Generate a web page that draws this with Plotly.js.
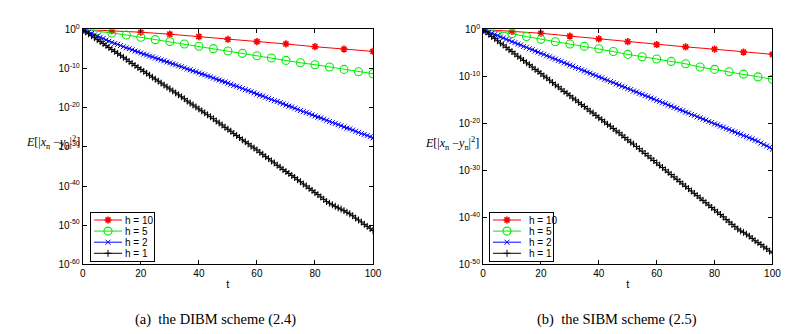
<!DOCTYPE html>
<html>
<head>
<meta charset="utf-8">
<script src="https://cdn.plot.ly/plotly-3.0.1.min.js"></script>
<style>
html,body{margin:0;padding:0;background:#fff;}
#chart{width:806px;height:334px;}
</style>
</head>
<body>
<div id="chart"></div>
<script>
// ---- Data (values are base-10 exponents of E[|x_n - y_n|^2]) ----
const t10 = [0,10,20,30,40,50,60,70,80,90,100];
const t5 = [0,5,10,15,20,25,30,35,40,45,50,55,60,65,70,75,80,85,90,95,100];
const t1 = Array.from({length:101},(_,i)=>i);

const seriesNames = ["h = 10","h = 5","h = 2","h = 1"];

// (a) DIBM scheme
const a_h10 = [0,-0.3,-0.7,-1.2,-1.8,-2.5,-3.1,-3.7,-4.4,-5.0,-5.6];
const a_h5 = [0,-0.4,-0.9,-1.4,-2.0,-2.6,-3.1,-3.7,-4.3,-4.9,-5.5,-6.1,-6.7,-7.3,-7.9,-8.5,-9.0,-9.6,-10.2,-10.8,-11.3];
const a_h2 = [0,-0.4,-0.7,-1.0,-1.4,-1.7,-2.0,-2.3,-2.7,-3.0,-3.3,
  -3.6,-3.8,-4.1,-4.4,-4.7,-4.9,-5.2,-5.5,-5.7,-6.0,
  -6.3,-6.5,-6.8,-7.0,-7.3,-7.5,-7.8,-8.0,-8.3,-8.5,
  -8.8,-9.0,-9.3,-9.5,-9.8,-10.1,-10.3,-10.6,-10.8,-11.1,
  -11.4,-11.6,-11.9,-12.1,-12.4,-12.7,-12.9,-13.2,-13.4,-13.7,
  -14.0,-14.3,-14.5,-14.8,-15.1,-15.4,-15.6,-15.9,-16.2,-16.5,
  -16.8,-17.0,-17.3,-17.6,-17.9,-18.2,-18.4,-18.7,-19.0,-19.3,
  -19.6,-19.8,-20.1,-20.4,-20.7,-21.0,-21.2,-21.5,-21.8,-22.1,
  -22.4,-22.6,-22.9,-23.2,-23.5,-23.8,-24.0,-24.3,-24.6,-24.9,
  -25.2,-25.4,-25.7,-26.0,-26.3,-26.6,-26.8,-27.1,-27.4,-27.7];
const a_h1 = [0,-0.6,-1.1,-1.6,-2.1,-2.6,-3.1,-3.6,-4.1,-4.6,-5.1,
  -5.6,-6.1,-6.6,-7.1,-7.6,-8.2,-8.7,-9.2,-9.7,-10.2,
  -10.7,-11.2,-11.7,-12.2,-12.7,-13.2,-13.7,-14.2,-14.7,-15.2,
  -15.7,-16.2,-16.7,-17.2,-17.7,-18.3,-18.8,-19.3,-19.8,-20.3,
  -20.8,-21.3,-21.8,-22.3,-22.8,-23.4,-23.9,-24.4,-25.0,-25.5,
  -26.0,-26.6,-27.1,-27.6,-28.2,-28.7,-29.2,-29.8,-30.3,-30.8,
  -31.4,-31.9,-32.5,-33.0,-33.6,-34.1,-34.7,-35.2,-35.8,-36.3,
  -36.8,-37.3,-37.8,-38.4,-38.9,-39.5,-40.0,-40.6,-41.1,-41.7,
  -42.2,-42.8,-43.4,-44.0,-44.4,-44.8,-45.2,-45.6,-45.9,-46.3,
  -46.7,-47.1,-47.6,-48.2,-48.7,-49.2,-49.8,-50.3,-50.8,-51.4];

// (b) SIBM scheme
const b_h10 = [0,-0.4,-0.8,-1.4,-2.0,-2.6,-3.2,-3.7,-4.2,-4.8,-5.3];
const b_h5 = [0,-0.4,-0.9,-1.5,-2.1,-2.6,-3.1,-3.6,-4.1,-4.7,-5.3,-5.8,-6.3,-6.8,-7.3,-8.0,-8.5,-9.0,-9.5,-10.1,-10.6];
const b_h2 = [0,-0.3,-0.6,-0.8,-1.1,-1.3,-1.6,-1.8,-2.1,-2.3,-2.6,
  -2.8,-3.1,-3.3,-3.6,-3.8,-4.1,-4.3,-4.6,-4.8,-5.1,
  -5.3,-5.6,-5.8,-6.1,-6.3,-6.6,-6.8,-7.1,-7.3,-7.6,
  -7.8,-8.1,-8.3,-8.6,-8.8,-9.1,-9.3,-9.6,-9.8,-10.1,
  -10.3,-10.6,-10.8,-11.1,-11.3,-11.6,-11.8,-12.1,-12.3,-12.6,
  -12.8,-13.1,-13.3,-13.6,-13.8,-14.1,-14.3,-14.6,-14.8,-15.1,
  -15.3,-15.6,-15.8,-16.1,-16.3,-16.6,-16.8,-17.1,-17.3,-17.6,
  -17.8,-18.1,-18.3,-18.6,-18.8,-19.1,-19.3,-19.6,-19.8,-20.1,
  -20.3,-20.6,-20.8,-21.1,-21.3,-21.6,-21.8,-22.1,-22.3,-22.6,
  -22.8,-23.1,-23.3,-23.6,-23.8,-24.2,-24.5,-24.8,-25.1,-25.5];
const b_h1 = [0,-0.5,-1.0,-1.5,-1.9,-2.4,-2.9,-3.3,-3.8,-4.3,-4.7,
  -5.2,-5.7,-6.1,-6.6,-7.1,-7.5,-8.0,-8.5,-8.9,-9.4,
  -9.9,-10.3,-10.8,-11.3,-11.8,-12.2,-12.7,-13.2,-13.6,-14.1,
  -14.6,-15.0,-15.5,-16.0,-16.4,-16.9,-17.4,-17.8,-18.3,-18.8,
  -19.2,-19.7,-20.2,-20.6,-21.1,-21.6,-22.0,-22.5,-23.0,-23.5,
  -24.0,-24.4,-24.9,-25.4,-25.9,-26.4,-26.9,-27.4,-27.9,-28.4,
  -28.9,-29.4,-29.9,-30.4,-30.9,-31.4,-31.9,-32.4,-32.9,-33.4,
  -33.9,-34.4,-34.9,-35.4,-35.9,-36.4,-36.9,-37.4,-37.9,-38.4,
  -38.9,-39.4,-39.9,-40.5,-41.0,-41.5,-42.0,-42.5,-42.9,-43.2,
  -43.6,-44.0,-44.5,-45.0,-45.4,-45.8,-46.3,-46.7,-47.2,-47.6];

const xTicks = [0,20,40,60,80,100];
const yExpA = [0,-10,-20,-30,-40,-50,-60];
const yExpB = [0,-10,-20,-30,-40,-50];
const captions = ["(a)  the DIBM scheme (2.4)", "(b)  the SIBM scheme (2.5)"];
const yTitle = "<i>E</i>[|<i>x</i><sub>n</sub> −<i>y</i><sub>n</sub>|<sup>2</sup>]";

// ---- Styles ----
const styles = [
  {color:"#ff0000", symbol:"asterisk-open", size:6, lw:1.6},
  {color:"#00ee00", symbol:"circle-open", size:8, lw:1.1},
  {color:"#0000ff", symbol:"x-thin-open", size:5, lw:1.0},
  {color:"#000000", symbol:"cross-thin-open", size:5, lw:1.0}
];
const pow = a => a.map(v => Math.pow(10, v));

function makeTraces(xs, ys, xa, ya, leg) {
  return ys.map((y, i) => ({
    type: "scatter", mode: "lines+markers",
    x: xs[i], y: pow(y), xaxis: xa, yaxis: ya,
    name: seriesNames[i], legend: leg,
    line: {color: styles[i].color, width: 1},
    marker: {symbol: styles[i].symbol, size: styles[i].size, color: styles[i].color,
             line: {color: styles[i].color, width: styles[i].lw}}
  }));
}

const data = [
  ...makeTraces([t10,t5,t1,t1],[a_h10,a_h5,a_h2,a_h1],"x","y","legend"),
  ...makeTraces([t10,t5,t1,t1],[b_h10,b_h5,b_h2,b_h1],"x2","y2","legend2")
];

const tickFont = {family:"Liberation Sans, Arial, sans-serif", size:10, color:"#000"};
function xAxis(dom, anchor) {
  return {domain: dom, anchor: anchor, range:[0,100], tickvals: xTicks, ticktext: xTicks.map(String),
    ticks:"inside", ticklen:4, tickcolor:"#000", showline:true, linecolor:"#000", linewidth:1,
    mirror:"ticks", showgrid:false, zeroline:false, tickfont: tickFont,
    title:{text:"t", font:{family:"Liberation Sans, Arial, sans-serif", size:11, color:"#000"}, standoff:2}};
}
function yAxis(exps, anchor) {
  return {domain:[0.2088,0.9117], anchor: anchor, type:"log",
    range:[exps[exps.length-1], 0],
    tickmode:"array", tickvals: exps.map(e=>Math.pow(10,e)),
    ticktext: exps.map(e=>"10<sup>"+(e===0?"0":"-"+(-e))+"</sup>"),
    ticks:"inside", ticklen:4, tickcolor:"#000", showline:true, linecolor:"#000", linewidth:1,
    mirror:"ticks", showgrid:false, zeroline:false, tickfont: tickFont};
}

const legendBase = {bordercolor:"#000", borderwidth:1, bgcolor:"#fff",
  font:{family:"Liberation Sans, Arial, sans-serif", size:10, color:"#000"},
  xanchor:"left", yanchor:"top", tracegroupgap:0, itemwidth:30};

const layout = {
  width:806, height:334, margin:{l:0,r:0,t:0,b:0},
  paper_bgcolor:"#fff", plot_bgcolor:"#fff", showlegend:true,
  xaxis: xAxis([0.1027,0.4628],"y"),
  yaxis: yAxis(yExpA,"x"),
  xaxis2: xAxis([0.5993,0.9584],"y2"),
  yaxis2: yAxis(yExpB,"x2"),
  legend: Object.assign({x:0.1117, y:0.3653}, legendBase),
  legend2: Object.assign({x:0.6067, y:0.3653}, legendBase),
  annotations: [
    {text: yTitle, xref:"paper", yref:"paper", x:24/806, y:1-142/334, xanchor:"left", yanchor:"middle",
     showarrow:false, font:{family:"Liberation Serif, Times New Roman, serif", size:12, color:"#000"}},
    {text: yTitle, xref:"paper", yref:"paper", x:423/806, y:1-143/334, xanchor:"left", yanchor:"middle",
     showarrow:false, font:{family:"Liberation Serif, Times New Roman, serif", size:12, color:"#000"}},
    {text: captions[0], xref:"paper", yref:"paper", x:216/806, y:1-319/334, xanchor:"center", yanchor:"middle",
     showarrow:false, font:{family:"Liberation Serif, Times New Roman, serif", size:14.5, color:"#000"}},
    {text: captions[1], xref:"paper", yref:"paper", x:617/806, y:1-319/334, xanchor:"center", yanchor:"middle",
     showarrow:false, font:{family:"Liberation Serif, Times New Roman, serif", size:14.5, color:"#000"}}
  ]
};

Plotly.newPlot("chart", data, layout, {staticPlot:true, displayModeBar:false}).then(gd => {
  // compact legend (MATLAB-style tight rows)
  gd.querySelectorAll("g.legend, g.legend2").forEach(leg => {
    const rows = leg.querySelectorAll("g.traces");
    rows.forEach((tr, i) => {
      tr.setAttribute("transform", "translate(0," + (8 + i * 11.1).toFixed(1) + ")");
      tr.querySelectorAll(".legendlines path").forEach(p => p.setAttribute("d", "M4,0h28"));
      tr.querySelectorAll(".legendpoints path").forEach(p => p.setAttribute("transform", "translate(18,0)"));
      const tx = tr.querySelector("text.legendtext");
      if (tx) {
        tx.setAttribute("x", 35);
        tx.querySelectorAll("tspan").forEach(s => { if (s.hasAttribute("x")) s.setAttribute("x", 35); });
      }
    });
    const bg = leg.querySelector("rect.bg");
    if (bg) { bg.setAttribute("height", 49); bg.setAttribute("width", 64); }
  });
});
</script>
</body>
</html>
